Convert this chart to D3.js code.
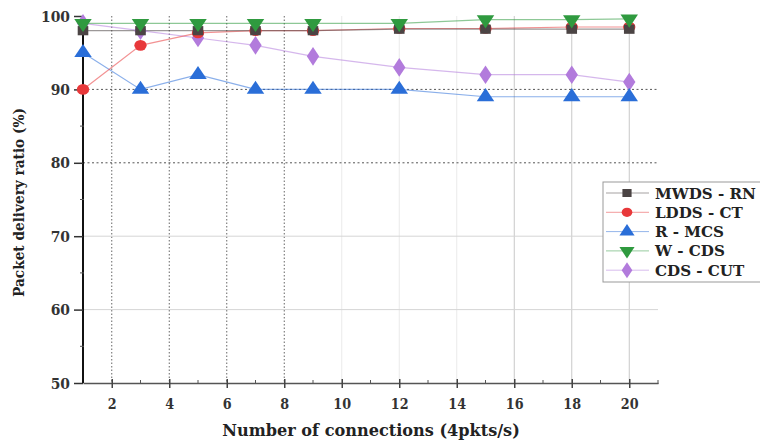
<!DOCTYPE html>
<html>
<head>
<meta charset="utf-8">
<script src="https://cdn.jsdelivr.net/npm/d3@7"></script>
<style>
  html, body { margin: 0; padding: 0; background: #fff; }
  svg { display: block; }
</style>
</head>
<body>
<svg id="chart" width="760" height="443"></svg>
<script>
// Number of connections at which packet delivery ratio was measured
const connections = [1, 3, 5, 7, 9, 12, 15, 18, 20];

// Packet delivery ratio (%) per scheme
const mwdsRn  = [98, 98, 98, 98, 98, 98.2, 98.2, 98.2, 98.2];
const lddsCt  = [90, 96, 97.7, 98, 98, 98.3, 98.3, 98.5, 98.5];
const rMcs    = [95, 90, 92, 90, 90, 90, 89, 89, 89];
const wCds    = [99, 99, 99, 99, 99, 99, 99.5, 99.5, 99.6];
const cdsCut  = [99, 98, 97, 96, 94.5, 93, 92, 92, 91];

const seriesNames = ["MWDS - RN", "LDDS - CT", "R - MCS", "W - CDS", "CDS - CUT"];
const seriesValues = [mwdsRn, lddsCt, rMcs, wCds, cdsCut];

const xTicks = [2, 4, 6, 8, 10, 12, 14, 16, 18, 20];
const yTicks = [50, 60, 70, 80, 90, 100];

const colors = ["#4b4444", "#e8383a", "#2a6ed8", "#2f9a3f", "#b27bdc"];
const symbols = [d3.symbolSquare, d3.symbolCircle, d3.symbolTriangle, d3.symbolTriangle, d3.symbolDiamond];
const symbolSizes = [85, 90, 100, 100, 100];
const rotations = [0, 0, 0, 180, 0];

const FONT = "'DejaVu Serif', 'Liberation Serif', serif";

const svg = d3.select("#chart");
const x = d3.scaleLinear().domain([1, 21]).range([83, 658]);
const y = d3.scaleLinear().domain([50, 100]).range([383, 16]);

// Horizontal stretch that makes `sample` at `size` span `width` pixels
const probe = svg.append("text").attr("font-family", FONT).attr("font-weight", "bold");
function stretchFor(sample, size, width) {
  probe.attr("font-size", size).text(sample);
  return width / probe.node().getComputedTextLength();
}
const titleStretch = stretchFor("Number of connections (4pkts/s)", 16, 298);
const legendStretch = stretchFor("MWDS - RN", 15, 101);
const tickStretch = stretchFor("100", 15, 29);
probe.remove();

// Wide bold serif label, stretched horizontally around its anchor point
function label(parent, px, py, str, size, stretch, anchor) {
  return parent.append("text")
    .attr("transform", `translate(${px},${py}) scale(${stretch},1)`)
    .attr("text-anchor", anchor)
    .attr("font-family", FONT)
    .attr("font-weight", "bold")
    .attr("font-size", size)
    .attr("fill", "#222")
    .text(str);
}

// Grid lines
const grid = svg.append("g");
xTicks.forEach(t => {
  const dark = t <= 8;
  const faint = t >= 10 && t <= 14;
  grid.append("line")
    .attr("x1", x(t)).attr("x2", x(t))
    .attr("y1", y(100)).attr("y2", y(50))
    .attr("stroke", dark ? "#666" : (faint ? "#eaeaea" : "#c8c8c8"))
    .attr("stroke-width", 1)
    .attr("stroke-dasharray", dark ? "1.5,2" : null);
});
[90, 80, 70, 60].forEach(t => {
  const dark = t >= 80;
  grid.append("line")
    .attr("x1", x(1)).attr("x2", x(21))
    .attr("y1", y(t)).attr("y2", y(t))
    .attr("stroke", dark ? "#555" : "#d6d6d6")
    .attr("stroke-width", 1)
    .attr("stroke-dasharray", dark ? "2,2.5" : null);
});

// X axis
const xAxis = d3.axisBottom(x).tickValues(xTicks).tickSize(0).tickFormat(() => "");
const gx = svg.append("g").attr("transform", `translate(0,${y(50)})`).call(xAxis);
gx.select(".domain").attr("stroke", "#555").attr("stroke-width", 1.5);
gx.selectAll(".tick text").remove();
gx.selectAll(".tick").append("line").attr("y1", -4).attr("y2", 5).attr("stroke", "#444").attr("stroke-width", 1.5);
gx.selectAll(".tick").each(function(d) {
  label(d3.select(this), 0, 26, d3.format("d")(d), 15, tickStretch * 0.92, "middle").attr("fill", "#333");
});
d3.range(3, 22, 2).forEach(t => {
  gx.append("line").attr("x1", x(t)).attr("x2", x(t)).attr("y1", -3).attr("y2", 1)
    .attr("stroke", "#555").attr("stroke-width", 1);
});

// Y axis
const yAxis = d3.axisLeft(y).tickValues(yTicks).tickSize(9).tickFormat(() => "");
const gy = svg.append("g").attr("transform", `translate(${x(1)},0)`).call(yAxis);
gy.select(".domain").attr("stroke", "#111").attr("stroke-width", 2).attr("d", `M0,${y(100)}V${y(50)}`);
gy.selectAll(".tick line").attr("stroke", "#333").attr("stroke-width", 1.5);
gy.selectAll(".tick text").remove();
gy.selectAll(".tick").each(function(d) {
  label(d3.select(this), -13, 5, String(d), 15, tickStretch, "end").attr("fill", "#333");
});
[55, 65, 75, 85, 95].forEach(t => {
  gy.append("line").attr("x1", -3).attr("x2", 1).attr("y1", y(t)).attr("y2", y(t))
    .attr("stroke", "#555").attr("stroke-width", 1);
});

// Axis titles
label(svg, 371, 436, "Number of connections (4pkts/s)", 16, titleStretch, "middle");
const yTitle = svg.append("text")
  .attr("text-anchor", "middle")
  .attr("font-family", FONT).attr("font-weight", "bold")
  .attr("font-size", 15).attr("fill", "#222")
  .text("Packet delivery ratio (%)");
const yTitleLen = yTitle.node().getComputedTextLength();
yTitle.attr("transform",
  `translate(24,${(y(100) + y(50)) / 2 + 3}) rotate(-90) scale(${189 / yTitleLen},${legendStretch})`);

// Series lines and markers
const line = d3.line().x((d, i) => x(connections[i])).y(d => y(d));
const order = [4, 2, 1, 0, 3];
order.forEach(s => {
  svg.append("path")
    .datum(seriesValues[s])
    .attr("d", line)
    .attr("fill", "none")
    .attr("stroke", colors[s])
    .attr("stroke-opacity", 0.55)
    .attr("stroke-width", 1.2);
});
order.forEach(s => {
  svg.append("g").selectAll("path")
    .data(seriesValues[s])
    .join("path")
    .attr("d", d3.symbol().type(symbols[s]).size(symbolSizes[s]))
    .attr("transform", (d, i) => `translate(${x(connections[i])},${y(d)}) rotate(${rotations[s]}) scale(1.15,1)`)
    .attr("fill", colors[s]);
});

// Legend
const legend = svg.append("g").attr("transform", "translate(603,182)");
legend.append("rect")
  .attr("x", 0).attr("y", 0).attr("width", 170).attr("height", 100)
  .attr("fill", "#fff").attr("stroke", "#999").attr("stroke-width", 1);
seriesNames.forEach((name, s) => {
  const ly = 11 + s * 19.3;
  legend.append("line")
    .attr("x1", 3).attr("x2", 46).attr("y1", ly).attr("y2", ly)
    .attr("stroke", colors[s]).attr("stroke-opacity", 0.5).attr("stroke-width", 1);
  legend.append("path")
    .attr("d", d3.symbol().type(symbols[s]).size(symbolSizes[s] * 0.75))
    .attr("transform", `translate(24,${ly}) rotate(${rotations[s]}) scale(1.15,1)`)
    .attr("fill", colors[s]);
  label(legend, 52, ly + 5.5, name, 15, legendStretch, "start");
});
</script>
</body>
</html>
